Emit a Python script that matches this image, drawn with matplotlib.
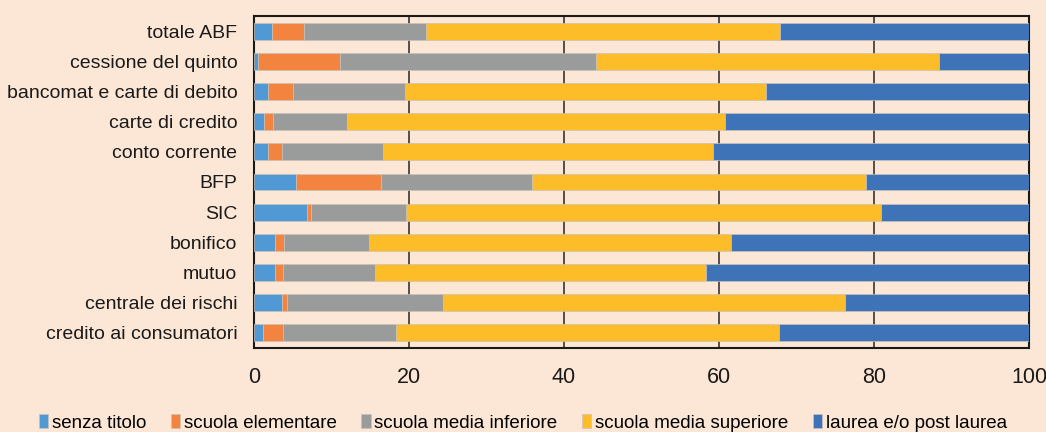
import matplotlib

matplotlib.use("Agg")
import matplotlib.pyplot as plt
import numpy as np

BG = "#fce7d6"

categories = [
    "totale ABF",
    "cessione del quinto",
    "bancomat e carte di debito",
    "carte di credito",
    "conto corrente",
    "BFP",
    "SIC",
    "bonifico",
    "mutuo",
    "centrale dei rischi",
    "credito ai consumatori",
]
series = [
    "senza titolo",
    "scuola elementare",
    "scuola media inferiore",
    "scuola media superiore",
    "laurea e/o post laurea",
]
senza_titolo = [2.3, 0.5, 1.8, 1.3, 1.8, 5.4, 6.9, 2.7, 2.7, 3.6, 1.2]
elementare = [4.1, 10.6, 3.2, 1.1, 1.8, 11.0, 0.4, 1.2, 1.1, 0.7, 2.6]
media_inf = [15.8, 33.0, 14.5, 9.6, 13.1, 19.5, 12.3, 10.9, 11.8, 20.1, 14.5]
media_sup = [45.7, 44.3, 46.6, 48.8, 42.5, 43.1, 61.3, 46.7, 42.7, 51.8, 49.4]
laurea = [32.1, 11.6, 33.9, 39.2, 40.8, 21.0, 19.1, 38.5, 41.7, 23.8, 32.3]
colors = ["#5199d4", "#f2843f", "#9a9c9b", "#fdbd28", "#3f73b8"]

plt.rcParams["font.family"] = ["Liberation Sans", "DejaVu Sans"]

fig = plt.figure(figsize=(10.46, 4.32), dpi=100, facecolor=BG)
ax = fig.add_axes([254 / 1046, 1 - 348 / 432, 775 / 1046, 332 / 432])
ax.set_facecolor(BG)

y = np.arange(len(categories))
left = np.zeros(len(categories))
for name, vals, c in zip(series, [senza_titolo, elementare, media_inf, media_sup, laurea], colors):
    ax.barh(y, vals, left=left, height=0.56, color=c, label=name,
            edgecolor="#c8c2bc", linewidth=0.5, zorder=3)
    left += np.array(vals)

ax.set_xlim(0, 100)
ax.set_ylim(len(categories) - 0.5, -0.5)
ax.set_yticks(y)
ax.set_yticklabels(categories, fontsize=14)
ax.set_xticks(range(0, 101, 20))
ax.tick_params(axis="both", length=0, colors="#1a1a1a")
ax.tick_params(axis="x", labelsize=15.5, pad=14)
ax.tick_params(axis="y", pad=12)
ax.grid(axis="x", color="#3a3330", lw=1.2, zorder=0)
for s in ax.spines.values():
    s.set_color("#1a1a1a")
    s.set_linewidth(1.5)

fig.legend(loc="center", bbox_to_anchor=(0.5, 1 - 423 / 432), ncol=5, frameon=False,
           fontsize=13.5, handlelength=0.5, handleheight=0.7, handletextpad=0.2,
           columnspacing=1.3)

fig.savefig("out.png", dpi=100, facecolor=BG)
